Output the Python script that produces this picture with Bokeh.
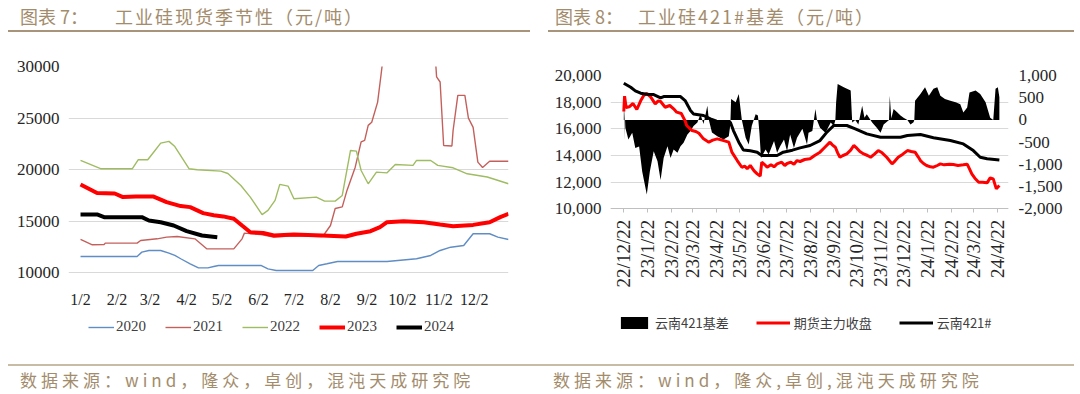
import math
from bokeh.plotting import figure
from bokeh.models import (Range1d, LinearAxis, FixedTicker, NumeralTickFormatter,
                          Legend, LegendItem, Div)
from bokeh.embed import file_html
from bokeh.resources import INLINE

# ---------------- Chart 7: seasonal spot price (yuan/ton) ----------------
# x = days since Jan 2
month_ticks = [0, 31, 59, 90, 120, 151, 181, 212, 243, 273, 304, 334]
month_labels = ["1/2", "2/2", "3/2", "4/2", "5/2", "6/2", "7/2", "8/2", "9/2", "10/2", "11/2", "12/2"]

d2020 = [0, 48, 52, 58, 68, 75, 80, 85, 93, 100, 108, 113, 117, 153, 159, 166, 197, 202, 209, 218,
         260, 285, 297, 305, 314, 325, 333, 347, 354, 363]
v2020 = [11600, 11600, 12020, 12180, 12180, 11920, 11700, 11380, 10890, 10500, 10500, 10630, 10730,
         10730, 10400, 10240, 10240, 10730, 10890, 11110, 11110, 11380, 11700, 12180, 12500, 12660,
         13800, 13800, 13470, 13250]

d2021 = [0, 10, 20, 21, 48, 51, 65, 73, 82, 97, 107, 130, 137, 139, 153, 164, 181, 205, 206, 212,
         216, 222, 226, 233, 238, 241, 244, 247, 252, 255, 262, 275, 290, 298, 302, 305, 308, 315,
         316, 320, 326, 329, 333, 337, 341, 347, 363]
v2021 = [13250, 12730, 12760, 12890, 12890, 13150, 13310, 13470, 13540, 13310, 12340, 12340, 13310,
         13860, 13730, 13470, 13600, 13540, 13630, 14600, 16250, 16400, 18000, 20250, 22700, 22850,
         24300, 24600, 26550, 29300, 36000, 60000, 50000, 36000, 29000, 28500, 22350, 22300, 23800,
         27200, 27200, 25000, 24100, 20740, 20220, 20830, 20830]

d2022 = [0, 17, 44, 49, 57, 62, 68, 75, 80, 92, 99, 119, 125, 136, 144, 154, 159, 165, 169, 176,
         181, 200, 207, 216, 222, 229, 234, 238, 244, 251, 260, 267, 282, 285, 297, 303, 316, 328,
         345, 363]
v2022 = [20900, 20100, 20100, 20970, 20970, 21700, 22580, 22750, 22250, 20100, 20000, 19870, 19640,
         18480, 17350, 15660, 16060, 17030, 18580, 18420, 17190, 17350, 16960, 16960, 17510, 21870,
         21800, 19930, 18640, 19770, 19700, 20510, 20420, 20900, 20900, 20420, 20190, 19610, 19300,
         18640]

d2023 = [0, 7, 14, 29, 36, 47, 62, 73, 85, 93, 104, 113, 121, 130, 137, 144, 155, 164, 181, 205,
         225, 234, 246, 254, 260, 274, 291, 305, 316, 333, 347, 356, 363]
v2023 = [18580, 18160, 17740, 17700, 17350, 17400, 17400, 16860, 16480, 16380, 15800, 15600, 15480,
         15260, 14600, 13950, 13870, 13630, 13730, 13630, 13540, 13800, 14050, 14440, 14920, 15020,
         14920, 14700, 14535, 14660, 14920, 15410, 15740]

d2024 = [0, 14, 20, 52, 58, 68, 79, 90, 103, 116]
v2024 = [15670, 15670, 15410, 15410, 15090, 14920, 14600, 14050, 13630, 13470]

left_yticks = [10000, 15000, 20000, 25000, 30000]

# ---------------- Chart 8: 421# basis (yuan/ton) ----------------
# x = days since 2022-12-22
date_ticks = [0, 31, 62, 90, 121, 151, 182, 212, 243, 274, 304, 335, 365, 396, 427, 456, 487]
date_labels = ["22/12/22", "23/1/22", "23/2/22", "23/3/22", "23/4/22", "23/5/22", "23/6/22",
               "23/7/22", "23/8/22", "23/9/22", "23/10/22", "23/11/22", "23/12/22", "24/1/22",
               "24/2/22", "24/3/22", "24/4/22"]

fut_days = [0, 1, 3, 7, 12, 17, 22, 26, 30, 35, 41, 45, 48, 54, 60, 65, 69, 75, 80, 82, 89, 94, 98,
            104, 111, 116, 122, 128, 137, 141, 148, 154, 158, 161, 165, 170, 174, 178, 180, 184,
            187, 192, 196, 200, 206, 210, 213, 218, 222, 226, 230, 236, 243, 249, 256, 262, 269,
            272, 276, 279, 282, 286, 291, 296, 300, 304, 308, 313, 318, 322, 327, 332, 337, 343,
            350, 354, 358, 364, 370, 375, 380, 384, 387, 391, 395, 400, 404, 409, 413, 418, 425,
            430, 436, 443, 448, 451, 454, 458, 463, 468, 474, 478, 482, 486, 490]
fut_vals = [17300, 18450, 17600, 17650, 17900, 17450, 18100, 18500, 18650, 18400, 17870, 18100,
            18050, 17620, 17750, 17500, 17250, 17150, 16600, 16250, 15870, 15800, 15670, 15250,
            15000, 15150, 15250, 15150, 15000, 14250, 13620, 13120, 13200, 13000, 13250, 12850,
            12620, 12450, 13500, 13300, 13120, 13300, 13150, 13370, 13500, 13250, 13400, 13500,
            13350, 13620, 13550, 13700, 13750, 14000, 14250, 14600, 15000, 14800, 14620, 14200,
            13870, 14000, 14120, 14400, 14750, 14550, 14300, 14120, 14000, 13870, 14100, 14370,
            14200, 13870, 13370, 13600, 13870, 14100, 14370, 14300, 14250, 13900, 13620, 13400,
            13250, 13150, 13120, 13250, 13370, 13300, 13350, 13320, 13250, 13300, 13350, 13000,
            12620, 12300, 12000, 12000, 11950, 12320, 12250, 11500, 11750]

spot_days = [0, 9, 15, 22, 30, 39, 48, 52, 74, 80, 84, 87, 91, 104, 113, 121, 139, 143, 150, 156,
             165, 174, 180, 200, 208, 220, 230, 243, 256, 265, 274, 291, 302, 317, 335, 361, 370,
             387, 404, 426, 443, 456, 465, 474, 490]
spot_vals = [19420, 19120, 18850, 18670, 18600, 18570, 18320, 18420, 18420, 18120, 17700, 17370,
             17120, 17000, 16750, 16570, 16500, 15870, 15000, 14420, 14350, 14250, 14000, 14000,
             14250, 14400, 14570, 14750, 15120, 15750, 16250, 16250, 16000, 15620, 15370, 15370,
             15500, 15570, 15330, 15120, 14870, 14370, 13870, 13750, 13670]

basis_days = [0, 0.5, 1, 2, 6, 11, 15, 20, 24, 30, 34, 39, 44, 48, 52, 57, 61, 65, 70, 74, 78, 83,
              87, 91, 96, 100, 104, 109, 111, 115, 122, 130, 137, 139, 140, 146, 150, 154, 159,
              163, 167, 172, 175, 177, 179, 185, 189, 196, 200, 204, 209, 213, 217, 222, 226, 233,
              239, 241, 246, 250, 252, 256, 263, 270, 274, 276, 277, 279, 287, 296, 297, 298, 302,
              306, 311, 314, 317, 324, 330, 335, 339, 346, 347, 349, 352, 357, 361, 365, 370, 374,
              378, 379, 380, 387, 393, 398, 404, 409, 413, 419, 426, 433, 439, 443, 448, 451, 459,
              465, 472, 478, 482, 485, 488, 490]
basis_vals = [650, -470, 300, -175, -440, -290, -630, -600, -1160, -1675, -1160, -705, -930, -1350,
              -855, -590, -855, -665, -740, -590, -515, -325, -250, -135, -60, 130, -90, 320, 0,
              -280, -365, -440, -365, -100, 470, 400, 585, 0, -400, -555, -130, 130, 100, -300,
              -855, -665, -780, -475, -740, -590, -440, -705, -325, -630, -400, -200, -555, -290,
              -250, 245, 0, -175, -290, -60, -135, 0, 395, 810, 735, 660, 300, -60, 0, -100, 320,
              50, 130, -60, -175, -290, -100, 0, 545, 30, 245, 170, 100, 50, 0, -100, -50, 0, 430,
              585, 735, 545, 700, 735, 545, 470, 430, 400, 355, 170, 280, 620, 660, 585, 400, 50,
              0, 700, 735, 510]

right_ticks_left = [10000, 12000, 14000, 16000, 18000, 20000]
right_ticks_right = [-2000, -1500, -1000, -500, 0, 500, 1000]

# ---------------- styles ----------------
TAN = "#a38c6c"
LINE_TAN = "#a8947a"
GRID = "#d9d9d9"
TICK_COL = "#262626"
SERIF = "Liberation Serif"

# ---------------- left figure ----------------
# frame extends below 10000 so that the legend sits inside it; the x axis is drawn at 10000
p1 = figure(width=540, height=300, x_range=Range1d(-10.2, 363), y_range=Range1d(3462, 30000),
            output_backend="svg", toolbar_location=None, name="left",
            min_border_left=68, min_border_right=32, min_border_top=18, min_border_bottom=8)
p1.outline_line_color = None
p1.xgrid.visible = False
p1.ygrid.ticker = FixedTicker(ticks=left_yticks)
p1.ygrid.grid_line_color = GRID
p1.yaxis.ticker = FixedTicker(ticks=left_yticks)
p1.xaxis.ticker = FixedTicker(ticks=month_ticks)
p1.xaxis.fixed_location = 10000
p1.xaxis.major_label_overrides = {t: l for t, l in zip(month_ticks, month_labels)}
for ax in (p1.xaxis[0], p1.yaxis[0]):
    ax.axis_line_color = None
    ax.major_tick_line_color = None
    ax.minor_tick_line_color = None
    ax.major_label_text_font = SERIF
    ax.major_label_text_font_size = "16px"
    ax.major_label_text_color = TICK_COL
p1.yaxis.major_label_text_font_size = "17px"
p1.yaxis.major_label_standoff = 3
p1.xaxis.major_label_standoff = 12

r20 = p1.line(d2020, v2020, line_color="#5f8dc4", line_width=1.4)
r21 = p1.line(d2021, v2021, line_color="#c4605c", line_width=1.4)
r22 = p1.line(d2022, v2022, line_color="#9fbc62", line_width=1.4)
r23 = p1.line(d2023, v2023, line_color="#ff0000", line_width=4)
r24 = p1.line(d2024, v2024, line_color="#000000", line_width=4)

leg1 = Legend(items=[LegendItem(label="2020", renderers=[r20]),
                     LegendItem(label="2021", renderers=[r21]),
                     LegendItem(label="2022", renderers=[r22]),
                     LegendItem(label="2023", renderers=[r23]),
                     LegendItem(label="2024", renderers=[r24])],
              orientation="horizontal", location=(20, 5), padding=0, spacing=19,
              glyph_width=26, glyph_height=16, label_standoff=2,
              label_text_font=SERIF, label_text_font_size="15px", label_text_color="#404040",
              border_line_color=None, background_fill_alpha=0)
p1.add_layout(leg1)

# ---------------- right figure ----------------
p2 = figure(width=540, height=300, x_range=Range1d(-17.35, 501.9), y_range=Range1d(125, 20000),
            output_backend="svg", toolbar_location=None, name="right",
            min_border_left=70, min_border_right=72, min_border_top=27, min_border_bottom=8)
p2.outline_line_color = None
p2.extra_y_ranges = {"basis": Range1d(-4962, 1000)}
p2.xgrid.visible = False
p2.ygrid.ticker = FixedTicker(ticks=right_ticks_left)
p2.ygrid.grid_line_color = GRID
p2.yaxis.ticker = FixedTicker(ticks=right_ticks_left)
p2.yaxis.formatter = NumeralTickFormatter(format="0,0")
raxis = LinearAxis(y_range_name="basis", ticker=FixedTicker(ticks=right_ticks_right),
                   formatter=NumeralTickFormatter(format="0,0"))
p2.add_layout(raxis, "right")
p2.xaxis.ticker = FixedTicker(ticks=date_ticks)
p2.xaxis.fixed_location = 10000
p2.xaxis.major_label_overrides = {t: l for t, l in zip(date_ticks, date_labels)}
p2.xaxis.major_label_orientation = math.pi / 2
for ax in (p2.yaxis[0], raxis):
    ax.axis_line_color = None
    ax.major_tick_line_color = None
    ax.minor_tick_line_color = None
for ax in (p2.xaxis[0], p2.yaxis[0], raxis):
    ax.major_label_text_font = SERIF
    ax.major_label_text_font_size = "17px"
    ax.major_label_text_color = TICK_COL
p2.xaxis.major_label_text_font_size = "19px"
p2.xaxis.axis_line_color = "#bfbfbf"
p2.xaxis.major_tick_line_color = "#bfbfbf"
p2.xaxis.major_tick_out = 4
p2.xaxis.major_tick_in = 0
p2.xaxis.minor_tick_line_color = None
p2.xaxis.major_label_standoff = 7
p2.yaxis.major_label_standoff = 3
raxis.major_label_standoff = 4

ra = p2.varea(x=basis_days, y1=[0] * len(basis_days), y2=basis_vals, y_range_name="basis",
              fill_color="#000000")
rf = p2.line(fut_days, fut_vals, line_color="#ff0000", line_width=3)
rs = p2.line(spot_days, spot_vals, line_color="#000000", line_width=3)

leg2 = Legend(items=[LegendItem(label="云南421基差", renderers=[ra]),
                     LegendItem(label="期货主力收盘", renderers=[rf]),
                     LegendItem(label="云南421#", renderers=[rs])],
              orientation="horizontal", location=(7, 8), padding=0, spacing=27,
              glyph_width=34, glyph_height=15, label_standoff=4,
              label_text_font="Noto Sans CJK SC", label_text_font_size="13px",
              label_text_color="#404040", border_line_color=None, background_fill_alpha=0)
p2.add_layout(leg2)

# ---------------- header / footer ----------------
font = "'Noto Sans CJK SC', sans-serif"
header_html = f"""
<div style="position:relative;width:1080px;height:48px;font-family:{font};color:{TAN};font-size:18px;">
<span style="position:absolute;left:20px;top:4px;white-space:pre;">图表 7：</span>
<span style="position:absolute;left:115px;top:4px;white-space:nowrap;letter-spacing:2px;">工业硅现货季节性（元/吨）</span>
<span style="position:absolute;left:555px;top:4px;white-space:pre;">图表 8：</span>
<span style="position:absolute;left:638px;top:4px;white-space:nowrap;letter-spacing:2px;">工业硅421#基差（元/吨）</span>
<div style="position:absolute;left:8px;top:30px;width:522px;height:2px;background:{LINE_TAN};"></div>
<div style="position:absolute;left:548px;top:30px;width:526px;height:2px;background:{LINE_TAN};"></div>
</div>"""
header = Div(text=header_html, width=1080, height=48, margin=0, name="hdr")

footer_html = f"""
<div style="position:relative;width:1080px;height:46px;font-family:{font};color:{TAN};font-size:17px;">
<div style="position:absolute;left:8px;top:16px;width:1066px;height:2px;background:#c9bca5;"></div>
<span style="position:absolute;left:20px;top:20px;white-space:nowrap;letter-spacing:4px;">数据来源：wind，隆众，卓创，混沌天成研究院</span>
<span style="position:absolute;left:553px;top:20px;white-space:nowrap;letter-spacing:4px;">数据来源：wind，隆众,卓创,混沌天成研究院</span>
</div>"""
footer = Div(text=footer_html, width=1080, height=46, margin=0, name="ftr")

# place each root absolutely on the page (no frame alignment between the two plots)
TEMPLATE = """
{% block contents %}
{% from macros import embed %}
<div style="position:absolute;left:0px;top:0px;">{{ embed(roots.hdr) }}</div>
<div style="position:absolute;left:0px;top:48px;">{{ embed(roots.left) }}</div>
<div style="position:absolute;left:540px;top:48px;">{{ embed(roots.right) }}</div>
<div style="position:absolute;left:0px;top:348px;">{{ embed(roots.ftr) }}</div>
{% endblock %}
"""

open("out.html", "w").write(file_html([header, p1, p2, footer], INLINE, template=TEMPLATE))
